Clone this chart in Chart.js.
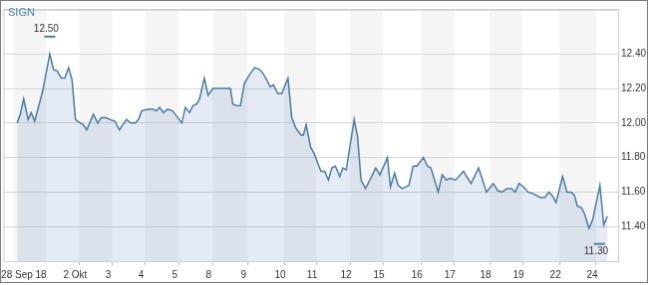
<!DOCTYPE html>
<html>
<head>
<meta charset="utf-8">
<script src="https://cdn.jsdelivr.net/npm/chart.js@4.4.0/dist/chart.umd.min.js"></script>
<style>
  body { margin: 0; background: #fff; }
  #c { display: block; border: 1px solid #7a7a7a; }
</style>
</head>
<body>
<canvas id="c" width="648" height="283"></canvas>
<script>
// time unit: trading sessions, 28 Sep 18 starts at 0
const times = [0.11,0.20,0.30,0.43,0.52,0.62,0.86,1.06,1.17,1.28,
  1.39,1.50,1.61,1.71,1.81,1.95,2.04,2.14,2.33,2.46,
  2.56,2.70,2.82,2.96,3.09,3.30,3.43,3.55,3.65,3.74,
  3.94,4.07,4.17,4.26,4.38,4.50,4.64,4.76,4.91,5.02,
  5.14,5.24,5.35,5.43,5.57,5.68,5.82,5.97,6.08,6.21,
  6.33,6.40,6.52,6.62,6.74,6.89,7.04,7.18,7.27,7.39,
  7.49,7.59,7.71,7.83,8.01,8.12,8.24,8.39,8.46,8.54,
  8.67,8.78,8.97,9.08,9.19,9.29,9.39,9.52,9.61,9.71,
  9.94,10.04,10.14,10.27,10.40,10.57,10.69,10.91,11.00,11.12,
  11.22,11.34,11.45,11.54,11.66,11.77,11.96,12.08,12.18,12.39,
  12.51,12.63,12.75,12.90,13.13,13.35,13.57,13.80,14.00,14.12,
  14.25,14.39,14.54,14.64,14.75,14.88,15.02,15.17,15.36,15.51,
  15.62,15.72,15.83,16.02,16.15,16.28,16.37,16.45,16.57,16.67,
  16.79,16.90,17.11,17.22,17.33];

const prices = [12.00,12.05,12.14,12.02,12.06,12.01,12.19,12.40,12.31,12.30,
  12.26,12.26,12.32,12.25,12.02,12.00,11.99,11.96,12.05,12.00,
  12.03,12.03,12.02,12.01,11.96,12.02,12.00,12.00,12.02,12.07,
  12.08,12.08,12.07,12.09,12.06,12.08,12.07,12.04,12.00,12.09,
  12.06,12.10,12.11,12.14,12.26,12.16,12.20,12.20,12.20,12.20,
  12.20,12.11,12.10,12.10,12.23,12.28,12.32,12.31,12.29,12.25,
  12.21,12.22,12.17,12.17,12.26,12.03,11.97,11.93,11.93,11.99,
  11.86,11.82,11.72,11.72,11.67,11.74,11.75,11.69,11.74,11.73,
  12.02,11.92,11.67,11.62,11.67,11.74,11.70,11.80,11.63,11.71,
  11.64,11.62,11.63,11.64,11.75,11.75,11.80,11.75,11.74,11.60,
  11.70,11.67,11.68,11.67,11.72,11.65,11.74,11.60,11.65,11.61,
  11.60,11.62,11.62,11.60,11.65,11.63,11.60,11.59,11.57,11.57,
  11.60,11.58,11.54,11.69,11.60,11.60,11.58,11.52,11.51,11.47,
  11.39,11.44,11.64,11.41,11.46];

// session starts (bands) and which day each one is
const dayStarts = [0, 0.96, 1.92, 2.88, 3.84, 4.82, 5.81, 6.83, 7.90, 8.83,
  9.82, 10.78, 11.89, 12.85, 13.89, 14.85, 15.93, 17.00];
const dayNames = ['28 Sep 18', '1 Okt', '2 Okt', '3', '4', '5', '8', '9', '10', '11',
  '12', '15', '16', '17', '18', '19', '22', '24'];

// x tick labels (first label is pushed right so it fits in the frame)
const xTickPos = [0.42, 1.92, 2.88, 3.84, 4.82, 5.81, 6.83, 7.90, 8.83,
  9.82, 10.78, 11.89, 12.85, 13.89, 14.85, 15.93, 17.00];
const xTickLabels = ['28 Sep 18', '2 Okt', '3', '4', '5', '8', '9', '10', '11',
  '12', '15', '16', '17', '18', '19', '22', '24'];
const yTicks = [11.40, 11.60, 11.80, 12.00, 12.20, 12.40];

// high / low markers
const hiLoValues = [12.50, 11.30];
const hiLoTimes = [1.06, 17.10];

const symbol = 'SIGN';
const font = "'Liberation Sans', Arial, sans-serif";

const chartDecor = {
    id: 'chartDecor',
    beforeDraw(chart) {
        const { ctx, chartArea: a, scales: { x } } = chart;
        ctx.save();
        for (let i = 0; i < dayStarts.length; i += 2) {
            const x0 = x.getPixelForValue(dayStarts[i]);
            const x1 = i + 1 < dayStarts.length ? x.getPixelForValue(dayStarts[i + 1]) : a.right;
            ctx.fillStyle = '#f5f5f5';
            ctx.fillRect(x0, a.top, x1 - x0, a.bottom - a.top);
        }
        ctx.restore();
    },
    afterDraw(chart) {
        const { ctx, chartArea: a, scales: { x, y } } = chart;
        ctx.save();
        // frame
        ctx.strokeStyle = '#cdcdcd';
        ctx.lineWidth = 1;
        ctx.strokeRect(a.left + 0.5, a.top + 0.5, a.right - a.left - 1, a.bottom - a.top);
        ctx.strokeStyle = '#dddddd';
        ctx.beginPath();
        ctx.moveTo(a.left, a.top + 1.5);
        ctx.lineTo(a.right, a.top + 1.5);
        ctx.stroke();

        // symbol name
        ctx.fillStyle = '#4f86b0';
        ctx.font = '11px ' + font;
        ctx.textAlign = 'left';
        ctx.textBaseline = 'middle';
        ctx.fillText(symbol, 7, 12);

        // hi / lo markers
        ctx.font = '10px ' + font;
        ctx.textAlign = 'center';
        hiLoValues.forEach((v, i) => {
            const px = x.getPixelForValue(hiLoTimes[i]);
            const py = y.getPixelForValue(v);
            ctx.strokeStyle = '#4a7da3';
            ctx.lineWidth = 2;
            ctx.beginPath();
            ctx.moveTo(px - 5.5, py);
            ctx.lineTo(px + 5.5, py);
            ctx.stroke();
            ctx.fillStyle = '#333';
            ctx.fillText(v.toFixed(2), px - 3.5, i === 0 ? py - 8 : py + 8);
        });
        ctx.restore();
    }
};

new Chart(document.getElementById('c').getContext('2d'), {
    type: 'line',
    data: {
        datasets: [{
            data: times.map((t, i) => ({ x: t, y: prices[i] })),
            borderColor: '#4a7da3',
            borderWidth: 1.5,
            backgroundColor: 'rgba(70,110,180,0.14)',
            fill: 'start',
            pointRadius: 0,
            tension: 0
        }]
    },
    options: {
        responsive: false,
        animation: false,
        devicePixelRatio: 1,
        layout: { padding: { left: 2, top: 4, right: 0, bottom: 0 } },
        plugins: { legend: { display: false }, tooltip: { enabled: false } },
        scales: {
            x: {
                type: 'linear',
                min: -0.29,
                max: 17.67,
                afterBuildTicks: s => { s.ticks = xTickPos.map(v => ({ value: v })); },
                afterFit: s => { s.height = 21; },
                grid: {
                    drawOnChartArea: false,
                    tickLength: 4,
                    tickColor: c => c.index === 0 ? 'rgba(0,0,0,0)' : '#c4c4c4'
                },
                border: { display: false },
                ticks: {
                    autoSkip: false,
                    maxRotation: 0,
                    padding: 4,
                    labelOffset: -4,
                    color: '#333',
                    font: { family: font, size: 10 },
                    callback: (v, i) => xTickLabels[i]
                }
            },
            y: {
                position: 'right',
                min: 11.2,
                max: 12.66,
                afterBuildTicks: s => { s.ticks = yTicks.map(v => ({ value: v })); },
                afterFit: s => { s.width = 28; },
                grid: { color: '#d6d6d6', drawTicks: false },
                border: { display: false },
                ticks: {
                    padding: 2,
                    color: '#333',
                    font: { family: font, size: 10 },
                    callback: v => v.toFixed(2)
                }
            }
        }
    },
    plugins: [chartDecor]
});
</script>
</body>
</html>
